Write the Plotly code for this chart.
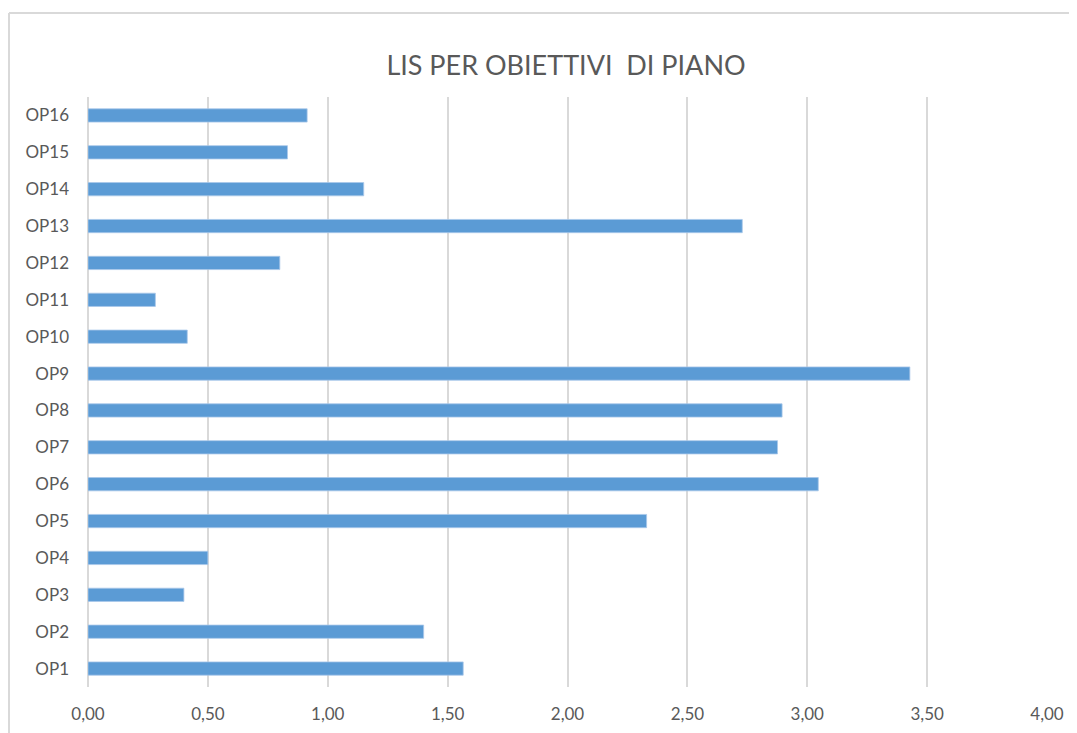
import plotly.graph_objects as go

categories = ["OP1", "OP2", "OP3", "OP4", "OP5", "OP6", "OP7", "OP8",
              "OP9", "OP10", "OP11", "OP12", "OP13", "OP14", "OP15", "OP16"]
values = [1.565, 1.40, 0.40, 0.50, 2.33, 3.046, 2.876, 2.895,
          3.428, 0.414, 0.281, 0.80, 2.729, 1.15, 0.832, 0.914]
tick_vals = [0, 0.5, 1.0, 1.5, 2.0, 2.5, 3.0, 3.5, 4.0]
title_text = "LIS PER OBIETTIVI  DI PIANO"

# page body has an 8px margin, so figure coordinates are screen - 8
OFF = 8
W, H = 1077, 733
L = 88 - OFF
T = 97 - OFF
R = W - (1047 - OFF)
B = H - (687 - OFF)
pw = W - L - R
ph = H - T - B

fig = go.Figure(go.Bar(
    x=values, y=categories, orientation="h",
    marker=dict(color="#5b9bd5", line=dict(color="#a9c8ea", width=0.8)),
    width=0.36,
))

font_fam = "Lato, Open Sans, sans-serif"

fig.update_layout(
    width=W, height=H,
    margin=dict(l=L, r=R, t=T, b=B, pad=0),
    paper_bgcolor="white", plot_bgcolor="white",
    separators=",.",
    showlegend=False,
    title=dict(text=title_text, x=(566 - OFF - L) / pw, xref="paper", xanchor="center",
               y=1 - (66 - OFF) / H, yanchor="middle",
               font=dict(family=font_fam, size=27, color="#595959")),
    xaxis=dict(range=[0, 4.0], tickvals=tick_vals, tickformat=".2f",
               showgrid=True, gridcolor="#d9d9d9", gridwidth=1.5,
               zeroline=True, zerolinecolor="#d9d9d9", zerolinewidth=1.5,
               showline=False, ticks="", ticklen=0,
               ticklabelstandoff=15,
               tickfont=dict(family=font_fam, size=17, color="#595959"),
               fixedrange=True),
    yaxis=dict(showgrid=False, zeroline=False, showline=False, ticks="",
               ticklabelstandoff=18,
               tickfont=dict(family=font_fam, size=17, color="#595959"),
               range=[-0.5, 15.5], fixedrange=True),
)

# outer chart border (top and left edges visible)
bx0 = (9 - OFF - L) / pw
by0 = (H - (13 - OFF) - B) / ph
fig.add_shape(type="line", xref="paper", yref="paper",
              x0=bx0, x1=(W + 5 - L) / pw, y0=by0, y1=by0,
              line=dict(color="#d9d9d9", width=2))
fig.add_shape(type="line", xref="paper", yref="paper",
              x0=bx0, x1=bx0, y0=by0, y1=-(B + 20) / ph,
              line=dict(color="#d9d9d9", width=2))

fig.write_html("out.html")
